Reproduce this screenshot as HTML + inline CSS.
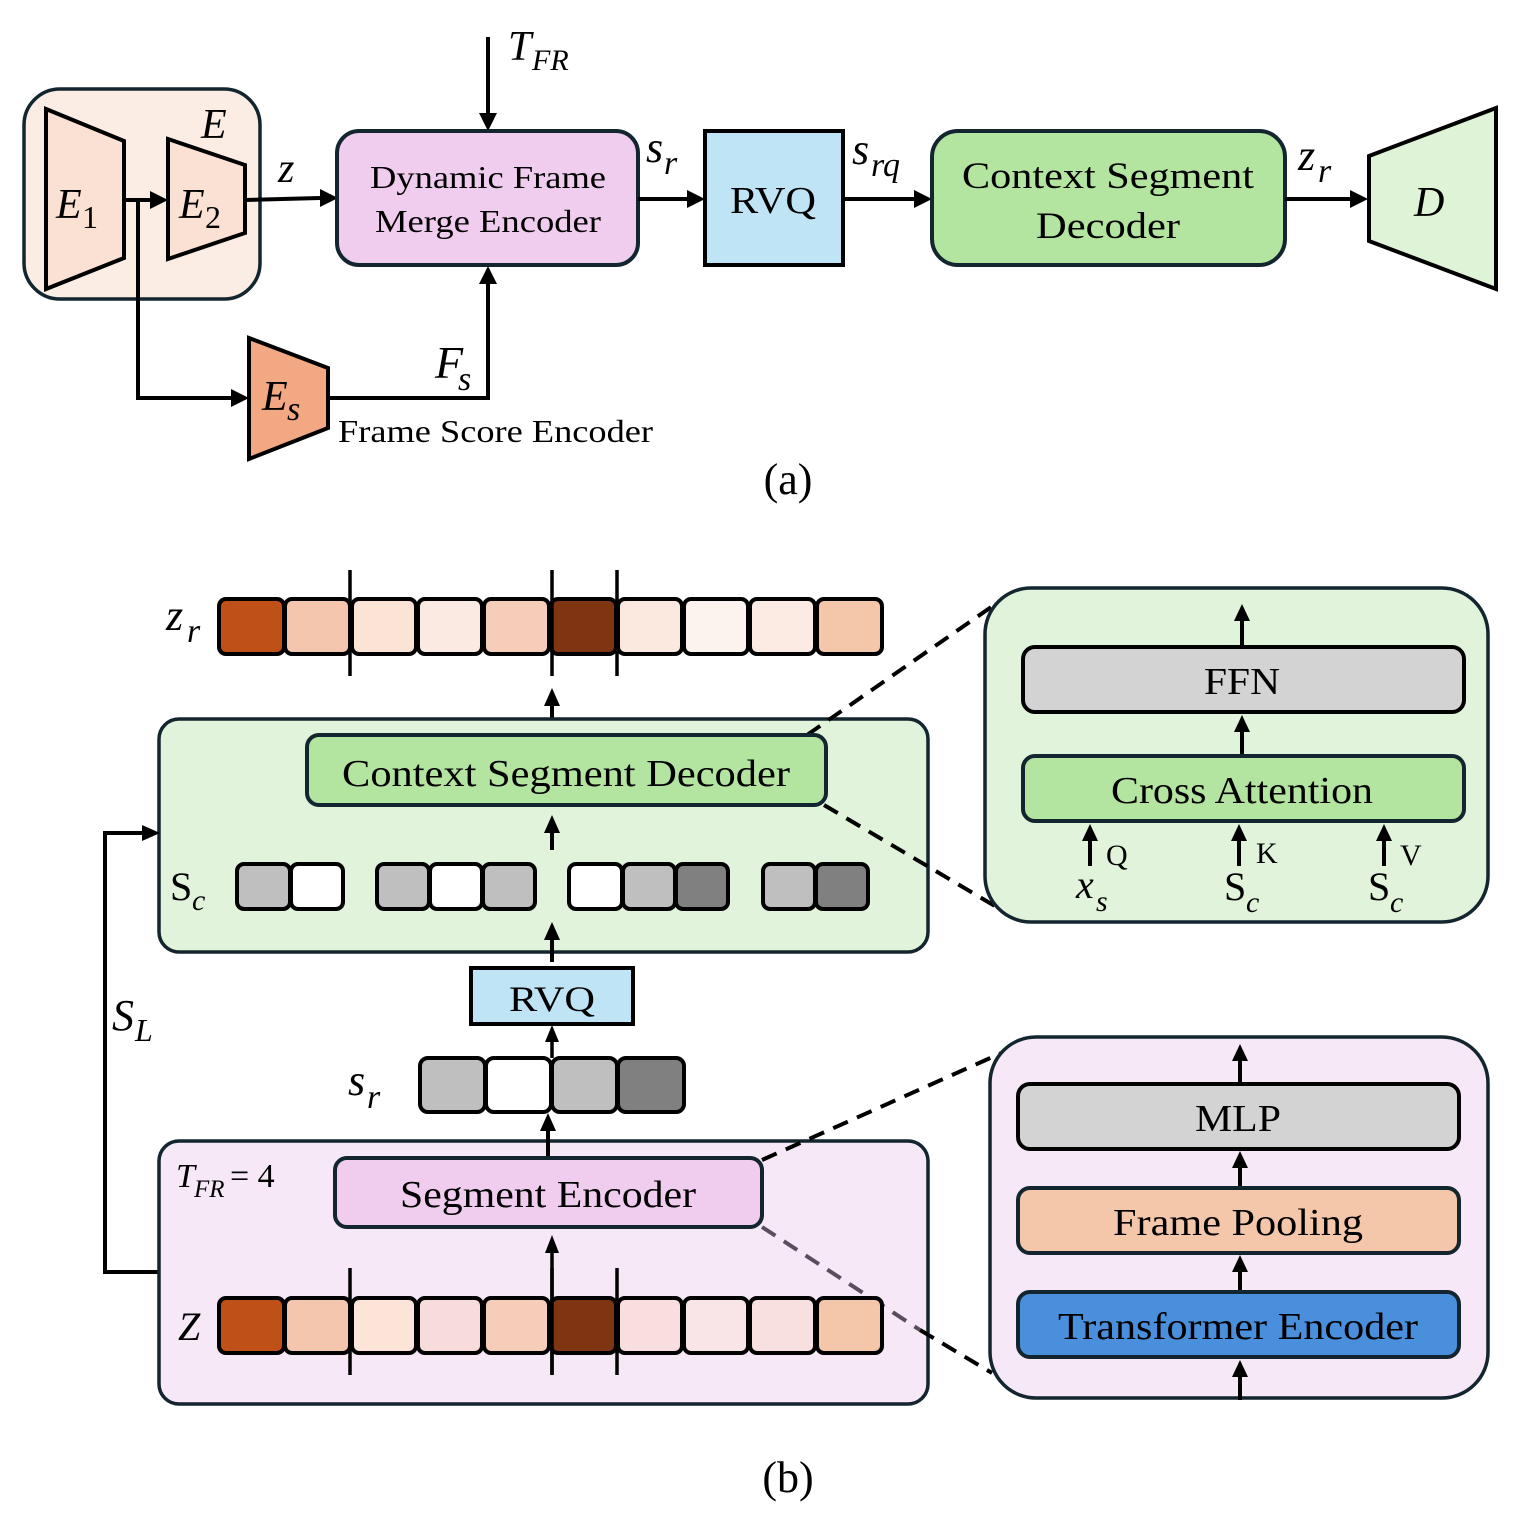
<!DOCTYPE html>
<html><head><meta charset="utf-8"><style>
html,body{margin:0;padding:0;background:#fff}
svg{display:block}
text{font-family:"Liberation Serif",serif;fill:#000}
.it{font-style:italic}
</style></head><body>
<svg width="1515" height="1516" viewBox="0 0 1515 1516" xmlns="http://www.w3.org/2000/svg">
<g stroke-linejoin="miter">
<!-- (a) -->
<rect x="24" y="89" width="236" height="210" rx="36" fill="#fbede4" stroke="#13252f" stroke-width="3.5"/>
<polygon points="46,109 124,141 124,258 46,289" fill="#fbe1d3" stroke="#000" stroke-width="4"/>
<polygon points="168,139 245,165 245,233 168,259" fill="#fbe1d3" stroke="#000" stroke-width="4"/>
<text x="201" y="138" font-size="42" class="it">E</text>
<text x="56" y="218" font-size="42" class="it">E</text><text x="82" y="228" font-size="32">1</text>
<text x="179" y="218" font-size="42" class="it">E</text><text x="205" y="228" font-size="32">2</text>
<path d="M124,200 H152" stroke="#000" stroke-width="4" fill="none"/>
<polygon points="168,200 150,191 150,209" fill="#000"/>
<path d="M138,200 V398 H232" stroke="#000" stroke-width="4" fill="none"/>
<polygon points="249,398 231,389 231,407" fill="#000"/>
<polygon points="249,338 328,368 328,428 249,459" fill="#f2a882" stroke="#000" stroke-width="4"/>
<text x="262" y="410" font-size="42" class="it">E</text><text x="287" y="420" font-size="34" class="it">s</text>
<text x="338" y="442" font-size="32" textLength="315" lengthAdjust="spacingAndGlyphs">Frame Score Encoder</text>
<path d="M328,398 H488 V283" stroke="#000" stroke-width="4" fill="none"/>
<polygon points="488,266 479,284 497,284" fill="#000"/>
<text x="435" y="378" font-size="46" class="it">F</text><text x="458" y="390" font-size="34" class="it">s</text>
<path d="M245,200 L320,198" stroke="#000" stroke-width="4" fill="none"/>
<polygon points="338,198 320,189 320,207" fill="#000"/>
<text x="278" y="182" font-size="42" class="it">z</text>
<path d="M488,37 V113" stroke="#000" stroke-width="4" fill="none"/>
<polygon points="488,131 479,113 497,113" fill="#000"/>
<text x="508" y="60" font-size="42" class="it">T</text><text x="532" y="70" font-size="30" class="it">FR</text>
<rect x="337" y="131" width="301" height="134" rx="22" fill="#f0cdee" stroke="#13252f" stroke-width="4"/>
<text x="488" y="188" font-size="32" text-anchor="middle" textLength="236" lengthAdjust="spacingAndGlyphs">Dynamic Frame</text>
<text x="488" y="232" font-size="32" text-anchor="middle" textLength="226" lengthAdjust="spacingAndGlyphs">Merge Encoder</text>
<path d="M638,199 H688" stroke="#000" stroke-width="4"/>
<polygon points="705,199 687,190 687,208" fill="#000"/>
<text x="646" y="162" font-size="44" class="it">s</text><text x="664" y="174" font-size="34" class="it">r</text>
<rect x="705" y="131" width="138" height="134" fill="#bfe4f5" stroke="#000" stroke-width="4"/>
<text x="773" y="213" font-size="38" text-anchor="middle" textLength="86" lengthAdjust="spacingAndGlyphs">RVQ</text>
<path d="M843,199 H915" stroke="#000" stroke-width="4"/>
<polygon points="932,199 914,190 914,208" fill="#000"/>
<text x="852" y="164" font-size="44" class="it">s</text><text x="871" y="176" font-size="34" class="it">rq</text>
<rect x="932" y="131" width="353" height="134" rx="26" fill="#b3e4a0" stroke="#13252f" stroke-width="4"/>
<text x="1108" y="188" font-size="37" text-anchor="middle" textLength="292" lengthAdjust="spacingAndGlyphs">Context Segment</text>
<text x="1108" y="238" font-size="37" text-anchor="middle" textLength="144" lengthAdjust="spacingAndGlyphs">Decoder</text>
<path d="M1285,199 H1351" stroke="#000" stroke-width="4"/>
<polygon points="1368,199 1350,190 1350,208" fill="#000"/>
<text x="1298" y="170" font-size="44" class="it">z</text><text x="1318" y="182" font-size="34" class="it">r</text>
<polygon points="1369,156 1496,108 1496,289 1369,241" fill="#dff3d6" stroke="#000" stroke-width="4"/>
<text x="1414" y="216" font-size="42" class="it">D</text>
<text x="788" y="494" font-size="44" text-anchor="middle">(a)</text>

<!-- (b) top zr row -->
<text x="166" y="630" font-size="44" class="it">z</text><text x="187" y="642" font-size="34" class="it">r</text>
<g stroke="#000" stroke-width="4">
<rect x="219" y="599" width="65" height="55" rx="7" fill="#bf5018"/>
<rect x="285" y="599" width="65" height="55" rx="7" fill="#f4c6ad"/>
<rect x="352" y="599" width="64" height="55" rx="7" fill="#fbe3d6"/>
<rect x="418" y="599" width="64" height="55" rx="7" fill="#fbeae1"/>
<rect x="484" y="599" width="65" height="55" rx="7" fill="#f5cdb8"/>
<rect x="551" y="599" width="65" height="55" rx="7" fill="#7f3511"/>
<rect x="618" y="599" width="64" height="55" rx="7" fill="#fbe9e0"/>
<rect x="684" y="599" width="64" height="55" rx="7" fill="#fdf3ee"/>
<rect x="750" y="599" width="65" height="55" rx="7" fill="#fbebe3"/>
<rect x="817" y="599" width="65" height="55" rx="7" fill="#f4c6aa"/>
</g>
<g stroke="#000" stroke-width="3.5"><path d="M350,570 V676 M552,570 V676 M617,570 V676"/></g>
<path d="M552,736 V704" stroke="#000" stroke-width="4"/>
<polygon points="552,688 544,706 560,706" fill="#000"/>
<rect x="159" y="719" width="769" height="233" rx="20" fill="#e1f3db" stroke="#13252f" stroke-width="3.5"/>
<path d="M807,735 L997,603" stroke="#000" stroke-width="4" stroke-dasharray="16,10"/>
<path d="M824,805 L1005,912" stroke="#000" stroke-width="4" stroke-dasharray="16,10"/>
<rect x="307" y="735" width="519" height="70" rx="12" fill="#b3e4a0" stroke="#13252f" stroke-width="4"/>
<text x="566" y="786" font-size="38" text-anchor="middle" textLength="448" lengthAdjust="spacingAndGlyphs">Context Segment Decoder</text>
<path d="M552,850 V832" stroke="#000" stroke-width="4"/>
<polygon points="552,815 544,833 560,833" fill="#000"/>
<text x="170" y="900" font-size="40">S</text><text x="192" y="910" font-size="30" class="it">c</text>
<g stroke="#000" stroke-width="4">
<rect x="237" y="864" width="53" height="45" rx="7" fill="#bfbfbf"/>
<rect x="291" y="864" width="52" height="45" rx="7" fill="#fff"/>
<rect x="377" y="864" width="52" height="45" rx="7" fill="#bfbfbf"/>
<rect x="430" y="864" width="52" height="45" rx="7" fill="#fff"/>
<rect x="483" y="864" width="52" height="45" rx="7" fill="#bfbfbf"/>
<rect x="569" y="864" width="53" height="45" rx="7" fill="#fff"/>
<rect x="623" y="864" width="52" height="45" rx="7" fill="#bfbfbf"/>
<rect x="676" y="864" width="52" height="45" rx="7" fill="#808080"/>
<rect x="763" y="864" width="52" height="45" rx="7" fill="#bfbfbf"/>
<rect x="816" y="864" width="52" height="45" rx="7" fill="#808080"/>
</g>
<path d="M552,962 V938" stroke="#000" stroke-width="4"/>
<polygon points="552,922 544,940 560,940" fill="#000"/>
<rect x="471" y="968" width="162" height="56" fill="#bfe4f5" stroke="#000" stroke-width="4"/>
<text x="552" y="1011" font-size="36" text-anchor="middle" textLength="86" lengthAdjust="spacingAndGlyphs">RVQ</text>
<text x="348" y="1095" font-size="44" class="it">s</text><text x="367" y="1108" font-size="34" class="it">r</text>
<g stroke="#000" stroke-width="4">
<rect x="420" y="1058" width="65" height="54" rx="8" fill="#bfbfbf"/>
<rect x="486" y="1058" width="65" height="54" rx="8" fill="#fff"/>
<rect x="552" y="1058" width="65" height="54" rx="8" fill="#bfbfbf"/>
<rect x="618" y="1058" width="66" height="54" rx="8" fill="#808080"/>
</g>
<path d="M552,1058 V1040" stroke="#000" stroke-width="3.5"/>
<polygon points="552,1025 545,1042 559,1042" fill="#000"/>
<path d="M159,1272 H105 V833 H142" stroke="#000" stroke-width="4" fill="none"/>
<polygon points="160,833 142,825 142,841" fill="#000"/>
<text x="112" y="1030" font-size="44" class="it">S</text><text x="135" y="1041" font-size="32" class="it">L</text>

<rect x="159" y="1141" width="769" height="263" rx="20" fill="#f7e8f7" stroke="#13252f" stroke-width="3.5"/>
<path d="M548,1160 V1130" stroke="#000" stroke-width="4"/>
<polygon points="548,1113 540,1131 556,1131" fill="#000"/>
<path d="M762,1160 L1035,1038" stroke="#000" stroke-width="4" stroke-dasharray="16,10"/>
<path d="M762,1227 L920,1330" stroke="#5a4d5e" stroke-width="4" stroke-dasharray="16,10"/>
<path d="M920,1330 L992,1373" stroke="#000" stroke-width="4" stroke-dasharray="16,10"/>
<text x="176" y="1187" font-size="34" class="it">T</text><text x="194" y="1197" font-size="25" class="it">FR</text><text x="230" y="1187" font-size="34">= 4</text>
<rect x="335" y="1158" width="427" height="69" rx="12" fill="#f0cdee" stroke="#13252f" stroke-width="4"/>
<text x="548" y="1207" font-size="38" text-anchor="middle" textLength="296" lengthAdjust="spacingAndGlyphs">Segment Encoder</text>
<path d="M552,1375 V1252" stroke="#000" stroke-width="3.5"/>
<polygon points="552,1235 545,1253 559,1253" fill="#000"/>
<text x="178" y="1340" font-size="40" class="it">Z</text>
<g stroke="#000" stroke-width="4">
<rect x="219" y="1298" width="65" height="55" rx="7" fill="#bf5018"/>
<rect x="285" y="1298" width="65" height="55" rx="7" fill="#f4c6ad"/>
<rect x="352" y="1298" width="64" height="55" rx="7" fill="#fce4d8"/>
<rect x="418" y="1298" width="64" height="55" rx="7" fill="#f8dcdc"/>
<rect x="484" y="1298" width="65" height="55" rx="7" fill="#f5cdb8"/>
<rect x="551" y="1298" width="65" height="55" rx="7" fill="#7f3511"/>
<rect x="618" y="1298" width="64" height="55" rx="7" fill="#f8dedf"/>
<rect x="684" y="1298" width="64" height="55" rx="7" fill="#f9e5e7"/>
<rect x="750" y="1298" width="65" height="55" rx="7" fill="#f8dfe0"/>
<rect x="817" y="1298" width="65" height="55" rx="7" fill="#f4c6aa"/>
</g>
<g stroke="#000" stroke-width="3.5"><path d="M350,1268 V1375 M552,1268 V1375 M617,1268 V1375"/></g>

<!-- right green panel -->
<rect x="985" y="588" width="503" height="334" rx="46" fill="#e1f3db" stroke="#13252f" stroke-width="3.5"/>
<path d="M1242,647 V620" stroke="#000" stroke-width="4"/>
<polygon points="1242,604 1234,621 1250,621" fill="#000"/>
<rect x="1023" y="647" width="441" height="65" rx="12" fill="#d3d3d3" stroke="#000" stroke-width="4"/>
<text x="1242" y="694" font-size="38" text-anchor="middle" textLength="76" lengthAdjust="spacingAndGlyphs">FFN</text>
<path d="M1242,756 V731" stroke="#000" stroke-width="4"/>
<polygon points="1242,715 1234,732 1250,732" fill="#000"/>
<rect x="1023" y="756" width="441" height="65" rx="12" fill="#b3e4a0" stroke="#13252f" stroke-width="4"/>
<text x="1242" y="803" font-size="38" text-anchor="middle" textLength="262" lengthAdjust="spacingAndGlyphs">Cross Attention</text>
<g stroke="#000" stroke-width="4"><path d="M1090,866 V840 M1239,866 V840 M1384,866 V840"/></g>
<polygon points="1090,824 1082,841 1098,841" fill="#000"/>
<polygon points="1239,824 1231,841 1247,841" fill="#000"/>
<polygon points="1384,824 1376,841 1392,841" fill="#000"/>
<text x="1106" y="865" font-size="30">Q</text>
<text x="1256" y="863" font-size="30">K</text>
<text x="1400" y="865" font-size="30">V</text>
<text x="1076" y="898" font-size="40" class="it">x</text><text x="1096" y="911" font-size="30" class="it">s</text>
<text x="1224" y="900" font-size="40">S</text><text x="1246" y="912" font-size="30" class="it">c</text>
<text x="1368" y="900" font-size="40">S</text><text x="1390" y="912" font-size="30" class="it">c</text>

<!-- right pink panel -->
<rect x="990" y="1037" width="498" height="361" rx="46" fill="#f7e8f7" stroke="#13252f" stroke-width="3.5"/>
<path d="M1240,1084 V1060" stroke="#000" stroke-width="4"/>
<polygon points="1240,1044 1232,1061 1248,1061" fill="#000"/>
<rect x="1018" y="1084" width="441" height="65" rx="12" fill="#d3d3d3" stroke="#000" stroke-width="4"/>
<text x="1238" y="1131" font-size="38" text-anchor="middle" textLength="86" lengthAdjust="spacingAndGlyphs">MLP</text>
<path d="M1240,1188 V1167" stroke="#000" stroke-width="4"/>
<polygon points="1240,1151 1232,1168 1248,1168" fill="#000"/>
<rect x="1018" y="1188" width="441" height="65" rx="12" fill="#f4c6aa" stroke="#13252f" stroke-width="4"/>
<text x="1238" y="1235" font-size="38" text-anchor="middle" textLength="250" lengthAdjust="spacingAndGlyphs">Frame Pooling</text>
<path d="M1240,1292 V1271" stroke="#000" stroke-width="4"/>
<polygon points="1240,1255 1232,1272 1248,1272" fill="#000"/>
<rect x="1018" y="1292" width="441" height="65" rx="12" fill="#4a8fdb" stroke="#13252f" stroke-width="4"/>
<text x="1238" y="1339" font-size="38" text-anchor="middle" textLength="360" lengthAdjust="spacingAndGlyphs">Transformer Encoder</text>
<path d="M1240,1400 V1376" stroke="#000" stroke-width="4"/>
<polygon points="1240,1360 1232,1377 1248,1377" fill="#000"/>

<text x="788" y="1492" font-size="44" text-anchor="middle">(b)</text>
</g>
</svg>
</body></html>
